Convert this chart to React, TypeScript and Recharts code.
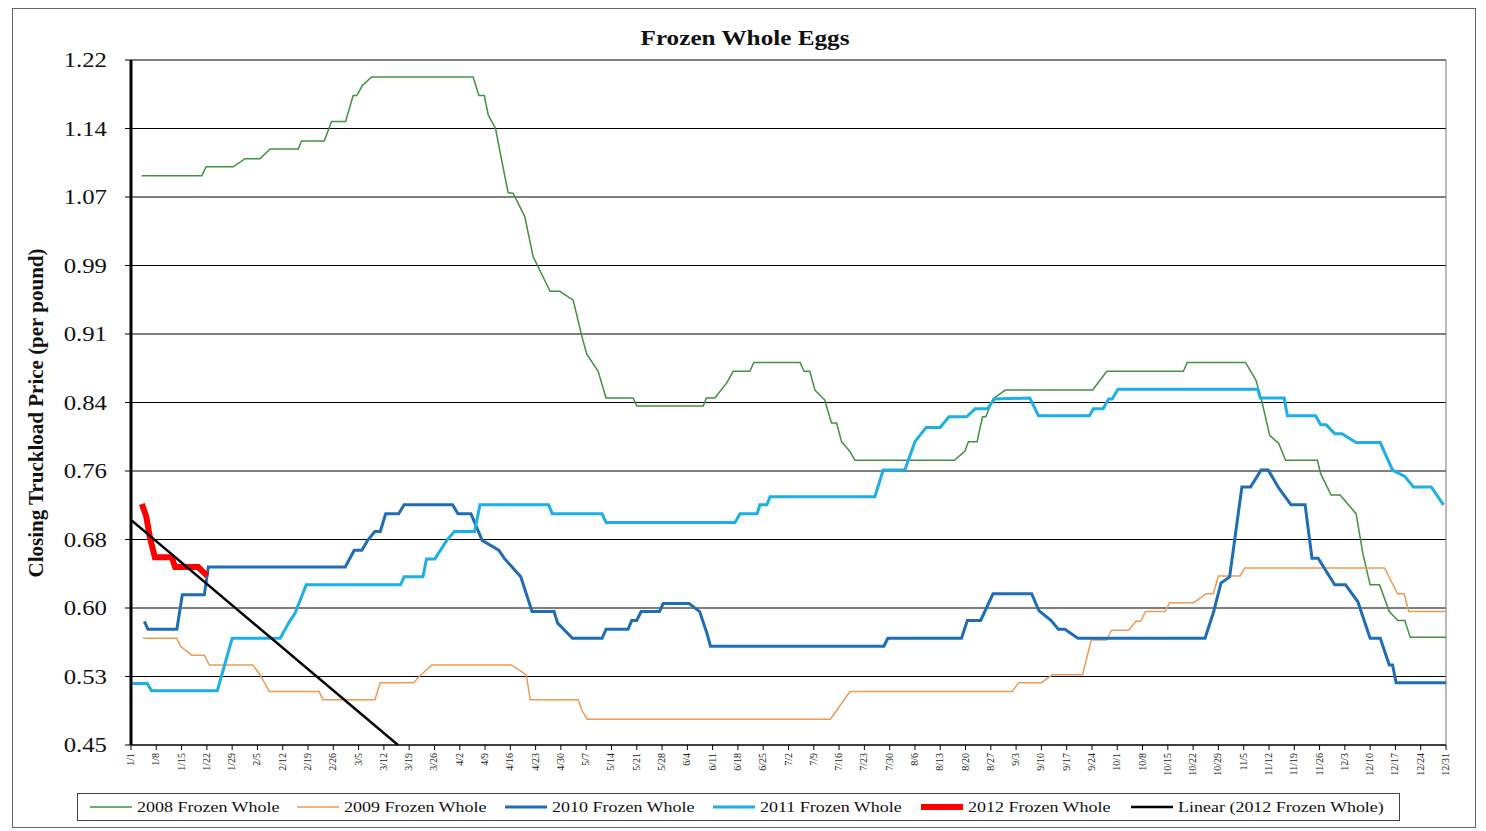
import React from "react";
import { CartesianGrid, Line, LineChart, ReferenceLine, XAxis, YAxis } from "recharts";

type Pt = [number, number];

// x = day of year (0 = 1/1), weekly ticks
const weekLabels = [
  "1/1", "1/8", "1/15", "1/22", "1/29", "2/5", "2/12", "2/19", "2/26", "3/5", "3/12", "3/19", "3/26",
  "4/2", "4/9", "4/16", "4/23", "4/30", "5/7", "5/14", "5/21", "5/28", "6/4", "6/11", "6/18", "6/25",
  "7/2", "7/9", "7/16", "7/23", "7/30", "8/6", "8/13", "8/20", "8/27", "9/3", "9/10", "9/17", "9/24",
  "10/1", "10/8", "10/15", "10/22", "10/29", "11/5", "11/12", "11/19", "11/26", "12/3", "12/10", "12/17",
  "12/24", "12/31",
];

const yTicks = [0.45, 0.527, 0.604, 0.681, 0.758, 0.835, 0.912, 0.989, 1.066, 1.143, 1.22];
const yTickLabels = ["0.45", "0.53", "0.60", "0.68", "0.76", "0.84", "0.91", "0.99", "1.07", "1.14", "1.22"];

const frozen2008: Pt[] = [
  [3, 1.09], [19.6, 1.09], [20.8, 1.1], [28.3, 1.1], [31.6, 1.109], [35.7, 1.109], [38.5, 1.12], [46.3, 1.12],
  [47.2, 1.129], [53.5, 1.129], [55.5, 1.151], [59.4, 1.151], [61.5, 1.18], [62.5, 1.18], [64, 1.191],
  [66.6, 1.201], [94.7, 1.201], [96.3, 1.18], [97.8, 1.18], [98.9, 1.158], [100.9, 1.143], [103.5, 1.089],
  [104.4, 1.071], [105.8, 1.07], [109, 1.044], [111.3, 0.999], [116, 0.96], [118.7, 0.96], [122.4, 0.95],
  [124.7, 0.911], [126.1, 0.89], [129.3, 0.87], [131.5, 0.84], [139, 0.84], [140, 0.831], [158.4, 0.831],
  [159.3, 0.84], [161.6, 0.84], [164.9, 0.857], [166.7, 0.87], [171.3, 0.87], [172.4, 0.88], [185.2, 0.88],
  [186.3, 0.87], [187.9, 0.87], [189.3, 0.849], [192, 0.838], [193.9, 0.812], [195.3, 0.812], [196.7, 0.791],
  [199, 0.78], [200.4, 0.77], [227.9, 0.77], [230.8, 0.78], [231.8, 0.791], [234.2, 0.791], [235.7, 0.819],
  [236.6, 0.819], [238.6, 0.839], [242, 0.849], [266.2, 0.849], [270.1, 0.87], [291.3, 0.87], [292.4, 0.88],
  [308.5, 0.88], [311.4, 0.86], [312.8, 0.84], [315.2, 0.798], [317.7, 0.789], [319.6, 0.77], [328.4, 0.77],
  [329.3, 0.755], [332.2, 0.731], [334.7, 0.731], [339.1, 0.71], [341, 0.665], [343, 0.63], [345.6, 0.63],
  [348.3, 0.6], [350.7, 0.59], [352.6, 0.59], [354.1, 0.571], [364, 0.571],
];

const frozen2009: Pt[] = [
  [3.3, 0.57], [12.7, 0.57], [13.7, 0.561], [16.8, 0.551], [20.3, 0.551], [21.7, 0.54], [33.7, 0.54],
  [35.7, 0.529], [38.3, 0.51], [52.1, 0.51], [53.1, 0.501], [67.5, 0.501], [69, 0.52], [78.2, 0.52],
  [80.3, 0.529], [83.3, 0.54], [105.3, 0.54], [109.4, 0.529], [110.5, 0.501], [123.8, 0.501], [124.8, 0.489],
  [126.3, 0.479], [193.6, 0.479], [199, 0.51], [243.9, 0.51], [245.7, 0.52], [252, 0.52], [255.1, 0.529],
  [263.4, 0.529], [265.8, 0.568], [270.1, 0.568], [271.4, 0.579], [276.1, 0.579], [278.2, 0.589],
  [279.5, 0.589], [280.8, 0.6], [286.2, 0.6], [287.5, 0.61], [294.2, 0.61], [297.6, 0.62], [299.6, 0.62],
  [301, 0.64], [307, 0.64], [308.3, 0.649], [347, 0.649], [350.6, 0.62], [352.4, 0.62], [353.7, 0.6], [364, 0.6],
];

const frozen2010: Pt[] = [
  [3.7, 0.589], [4.7, 0.58], [12.7, 0.58], [14.2, 0.619], [20.3, 0.619], [21.4, 0.65], [59.3, 0.65],
  [61.8, 0.669], [63.9, 0.669], [65.5, 0.68], [67.5, 0.69], [69, 0.69], [70.5, 0.71], [74.1, 0.71],
  [75.6, 0.72], [89, 0.72], [90.5, 0.71], [94.1, 0.71], [97.2, 0.68], [101.8, 0.669], [103.3, 0.66],
  [107.9, 0.639], [111, 0.6], [117.1, 0.6], [118.1, 0.587], [122.2, 0.57], [130.4, 0.57], [131.5, 0.58],
  [137.6, 0.58], [138.6, 0.59], [140, 0.59], [141.2, 0.6], [146.3, 0.6], [147.3, 0.609], [154.5, 0.609],
  [157.4, 0.6], [159.4, 0.576], [160.4, 0.561], [208.4, 0.561], [209.5, 0.57], [229.9, 0.57], [231.5, 0.59],
  [235.2, 0.59], [238.6, 0.62], [249.3, 0.62], [251.3, 0.601], [254.7, 0.59], [256.7, 0.58], [258.5, 0.58],
  [262.1, 0.57], [297.3, 0.57], [299.7, 0.6], [301.7, 0.632], [304.1, 0.639], [307.5, 0.74], [309.9, 0.74],
  [312.8, 0.759], [314.8, 0.759], [317.7, 0.739], [321.1, 0.72], [325, 0.72], [326.9, 0.66], [328.6, 0.66],
  [333.2, 0.63], [336.2, 0.63], [339.6, 0.611], [343, 0.57], [345.8, 0.57], [348.3, 0.54], [349.2, 0.54],
  [350.2, 0.52], [364, 0.52],
];

const frozen2011: Pt[] = [
  [0.4, 0.519], [4.5, 0.519], [5.7, 0.511], [23.9, 0.511], [28, 0.57], [41.3, 0.57], [43.9, 0.589],
  [45.4, 0.598], [48.5, 0.63], [74.6, 0.63], [75.6, 0.639], [80.8, 0.639], [81.8, 0.659], [84.1, 0.659],
  [87.4, 0.68], [89.5, 0.69], [95.1, 0.69], [96.6, 0.72], [115.6, 0.72], [116.6, 0.71], [130.4, 0.71],
  [131.5, 0.7], [167.2, 0.7], [168.6, 0.71], [173.3, 0.71], [174.1, 0.72], [176, 0.72], [176.9, 0.729],
  [205.9, 0.729], [208.2, 0.759], [214.2, 0.759], [217, 0.791], [220.1, 0.807], [224, 0.807], [226.4, 0.819],
  [231.3, 0.819], [233.7, 0.828], [237.1, 0.828], [239, 0.839], [248.8, 0.84], [251.2, 0.82], [265.3, 0.82],
  [266.4, 0.828], [269.1, 0.828], [270.6, 0.839], [271.6, 0.839], [273.2, 0.85], [311.9, 0.85], [312.6, 0.84],
  [319.2, 0.84], [320.1, 0.82], [327.9, 0.82], [329.3, 0.81], [330.8, 0.81], [333.2, 0.8], [335.2, 0.8],
  [339.1, 0.79], [345.8, 0.79], [349.2, 0.759], [352.6, 0.752], [355, 0.74], [359.9, 0.74], [363.3, 0.72],
];

const frozen2012: Pt[] = [
  [3, 0.721], [4.2, 0.707], [5.3, 0.682], [6.6, 0.661], [11.3, 0.661], [12.2, 0.65], [18.6, 0.65], [21.1, 0.64],
];

const trend2012: Pt[] = [[0, 0.703], [73.9, 0.45]];

const series = [
  { name: "2008 Frozen Whole", pts: frozen2008, color: "#3f923f", width: 1.5 },
  { name: "2009 Frozen Whole", pts: frozen2009, color: "#ee9a55", width: 1.5 },
  { name: "2010 Frozen Whole", pts: frozen2010, color: "#1f6db5", width: 3 },
  { name: "2011 Frozen Whole", pts: frozen2011, color: "#1cb0e6", width: 3 },
  { name: "2012 Frozen Whole", pts: frozen2012, color: "#ff0000", width: 6 },
  { name: "Linear (2012 Frozen Whole)", pts: trend2012, color: "#000000", width: 2.5 },
];

const FONT = '"Liberation Serif", "Times New Roman", serif';
const toRows = (pts: Pt[]) => pts.map(([day, price]) => ({ day, price }));
const xTicks = weekLabels.map((_, i) => i * 7);

function XTick({ x, y, payload }: any) {
  return (
    <text transform={`translate(${x + 3},${y}) rotate(-90)`} textAnchor="end" fontSize={10} fontFamily={FONT} fill="#222">
      {weekLabels[Math.round(payload.value / 7)]}
    </text>
  );
}

function YTick({ x, y, payload }: any) {
  return (
    <text transform={`translate(${x},${y + 7}) scale(1.18,1)`} textAnchor="end" fontSize={21} fontFamily={FONT} fill="#111">
      {yTickLabels[yTicks.indexOf(payload.value)]}
    </text>
  );
}

function YTitle() {
  return (
    <text transform="translate(43,413) rotate(-90)" textAnchor="middle" fontSize={21} fontWeight="bold" fontFamily={FONT} fill="#111">
      Closing Truckload Price (per pound)
    </text>
  );
}

const legendX = [90, 297, 505, 713, 921, 1131];

export default function App() {
  return (
    <div style={{ position: "fixed", left: 0, top: 0, width: 1486, height: 831, background: "#fff" }}>
      <LineChart width={1486} height={831} margin={{ top: 60, right: 40, bottom: 46, left: 51 }}>
        <CartesianGrid vertical={false} stroke="#000" strokeWidth={1} />
        <XAxis
          dataKey="day"
          type="number"
          domain={[0, 364]}
          ticks={xTicks}
          interval={0}
          height={40}
          stroke="#000"
          tickSize={5}
          tickMargin={3}
          tick={<XTick />}
          allowDataOverflow
        />
        <YAxis
          type="number"
          domain={[0.45, 1.22]}
          ticks={yTicks}
          interval={0}
          width={80}
          axisLine={{ stroke: "#000", strokeWidth: 3 }}
          tickLine={{ stroke: "#000" }}
          tickSize={6}
          tickMargin={18}
          tick={<YTick />}
          label={<YTitle />}
          allowDataOverflow
        />
        <ReferenceLine x={364} stroke="#777" />
        {series.map((s) => (
          <Line
            key={s.name}
            data={toRows(s.pts)}
            dataKey="price"
            name={s.name}
            type="linear"
            stroke={s.color}
            strokeWidth={s.width}
            dot={false}
            activeDot={false}
            isAnimationActive={false}
          />
        ))}
      </LineChart>
      <svg width={1486} height={831} style={{ position: "absolute", left: 0, top: 0, pointerEvents: "none" }}>
        <rect x={12.5} y={8.5} width={1463} height={819} fill="none" stroke="#666" />
        <text transform="translate(745,45) scale(1.2,1)" textAnchor="middle" fontSize={21} fontWeight="bold" fontFamily={FONT} fill="#111">
          Frozen Whole Eggs
        </text>
        <rect x={77.5} y={793.5} width={1322} height={27} fill="#fff" stroke="#444" />
        {series.map((s, i) => (
          <g key={s.name}>
            <line x1={legendX[i]} x2={legendX[i] + 42} y1={807} y2={807} stroke={s.color} strokeWidth={s.width} />
            <text transform={`translate(${legendX[i] + 47},812) scale(1.2,1)`} fontSize={15} fontFamily={FONT} fill="#111">
              {s.name}
            </text>
          </g>
        ))}
      </svg>
    </div>
  );
}
